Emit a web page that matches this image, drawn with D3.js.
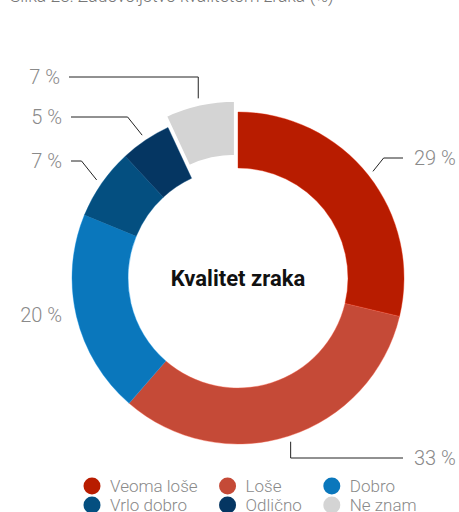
<!DOCTYPE html>
<html>
<head>
<meta charset="utf-8">
<script src="https://cdn.jsdelivr.net/npm/d3@7"></script>
<style>
  body { margin: 0; background: #fff; }
  svg text { font-family: Roboto, "Liberation Sans", sans-serif; }
</style>
</head>
<body>
<svg id="chart" width="459" height="512"></svg>
<script>
// data
const categories = ['Veoma loše', 'Loše', 'Dobro', 'Vrlo dobro', 'Odlično', 'Ne znam'];
const values = [29, 33, 20, 7, 5, 7];
const colors = ['#b81c00', '#c54a37', '#0a77bc', '#044f80', '#053662', '#d4d4d4'];
const exploded = [false, false, false, false, false, true];

// label layout: where the leader bends and which side the text sits
// kind: 'diag' bends at 45deg, 'vert' goes straight up/down, 'none' no leader
const labelLayout = [
  {kind: 'diag', y: 158, side: 'right', textX: 414},
  {kind: 'vert', y: 458, side: 'right', textX: 414},
  {kind: 'none', y: 315, side: 'left', textX: 62},
  {kind: 'diag', y: 161, side: 'left', textX: 62},
  {kind: 'diag', y: 117, side: 'left', textX: 62},
  {kind: 'vert', y: 77, side: 'left', textX: 60}
];

let svg = d3.select('#chart');

// title (cut by the top edge in the original)
svg.append('text')
  .attr('x', 10)
  .attr('y', 2)
  .attr('font-size', 17.5)
  .attr('font-weight', 300)
  .attr('fill', '#777')
  .text('Slika 23: Zadovoljstvo kvalitetom zraka (%)');

let cx = 238, cy = 278;
let outerR = 166, innerR = 110;
let explode = 12;

let g = svg.append('g').attr('transform', `translate(${cx},${cy})`);

let pie = d3.pie().sort(null).value(d => d);
let arcs = pie(values);

let arc = d3.arc().innerRadius(innerR).outerRadius(outerR);

function offsetOf(d, i) {
  if (!exploded[i]) return [0, 0];
  let a = (d.startAngle + d.endAngle) / 2;
  return [Math.sin(a) * explode, -Math.cos(a) * explode];
}

g.selectAll('path.slice')
  .data(arcs)
  .enter()
  .append('path')
  .attr('class', 'slice')
  .attr('d', arc)
  .attr('fill', (d, i) => colors[i])
  .attr('stroke', (d, i) => exploded[i] ? '#fff' : d3.color(colors[i]).brighter(0.6))
  .attr('stroke-width', (d, i) => exploded[i] ? 3 : 0.4)
  .attr('transform', (d, i) => `translate(${offsetOf(d, i)})`);

// leaders + labels
arcs.forEach((d, i) => {
  let lay = labelLayout[i];
  let off = offsetOf(d, i);
  let a = (d.startAngle + d.endAngle) / 2;
  let r = outerR + 6;
  let x0 = cx + off[0] + Math.sin(a) * r;
  let y0 = cy + off[1] - Math.cos(a) * r;
  let dir = lay.side === 'right' ? 1 : -1;
  let endX = lay.side === 'right' ? lay.textX - 11 : lay.textX + 9;

  if (lay.kind !== 'none') {
    let bx = lay.kind === 'vert' ? x0 : x0 + dir * Math.abs(y0 - lay.y) * 0.8;
    svg.append('path')
      .attr('d', d3.line()([[x0, y0], [bx, lay.y], [endX, lay.y]]))
      .attr('fill', 'none')
      .attr('stroke', '#222')
      .attr('stroke-width', 1);
  }

  svg.append('text')
    .attr('x', lay.textX)
    .attr('y', lay.y)
    .attr('dy', '0.35em')
    .attr('text-anchor', lay.side === 'right' ? 'start' : 'end')
    .attr('font-size', 20)
    .attr('font-weight', 300)
    .attr('fill', '#8a8a8a')
    .text(values[i] + ' %');
});

// centre title
svg.append('text')
  .attr('x', cx)
  .attr('y', cy)
  .attr('dy', '0.35em')
  .attr('text-anchor', 'middle')
  .attr('font-size', 22)
  .attr('font-weight', 'bold')
  .attr('font-family', '"Liberation Sans", Arial, sans-serif')
  .attr('fill', '#111')
  .text('Kvalitet zraka');

// legend, 3 columns, 2 rows
let legend = svg.append('g');
let nCols = 3;
let rowY = [486, 505];
let items = legend.selectAll('g.item')
  .data(categories)
  .enter()
  .append('g')
  .attr('class', 'item');

items.append('circle')
  .attr('r', 8.5)
  .attr('fill', (d, i) => colors[i]);

items.append('text')
  .attr('x', 18)
  .attr('dy', '0.35em')
  .attr('font-size', 17)
  .attr('font-weight', 300)
  .attr('fill', '#8a8a8a')
  .text(d => d);

// column widths from widest text in each column
let colW = d3.range(nCols).map(c => {
  let w = 0;
  items.filter((d, i) => i % nCols === c).select('text').each(function() {
    w = Math.max(w, this.getComputedTextLength());
  });
  return 18 + w + 30;
});
let colX = [92];
for (let c = 1; c < nCols; c++) colX.push(colX[c - 1] + colW[c - 1]);

items.attr('transform', (d, i) => `translate(${colX[i % nCols]},${rowY[Math.floor(i / nCols)]})`);
</script>
</body>
</html>
